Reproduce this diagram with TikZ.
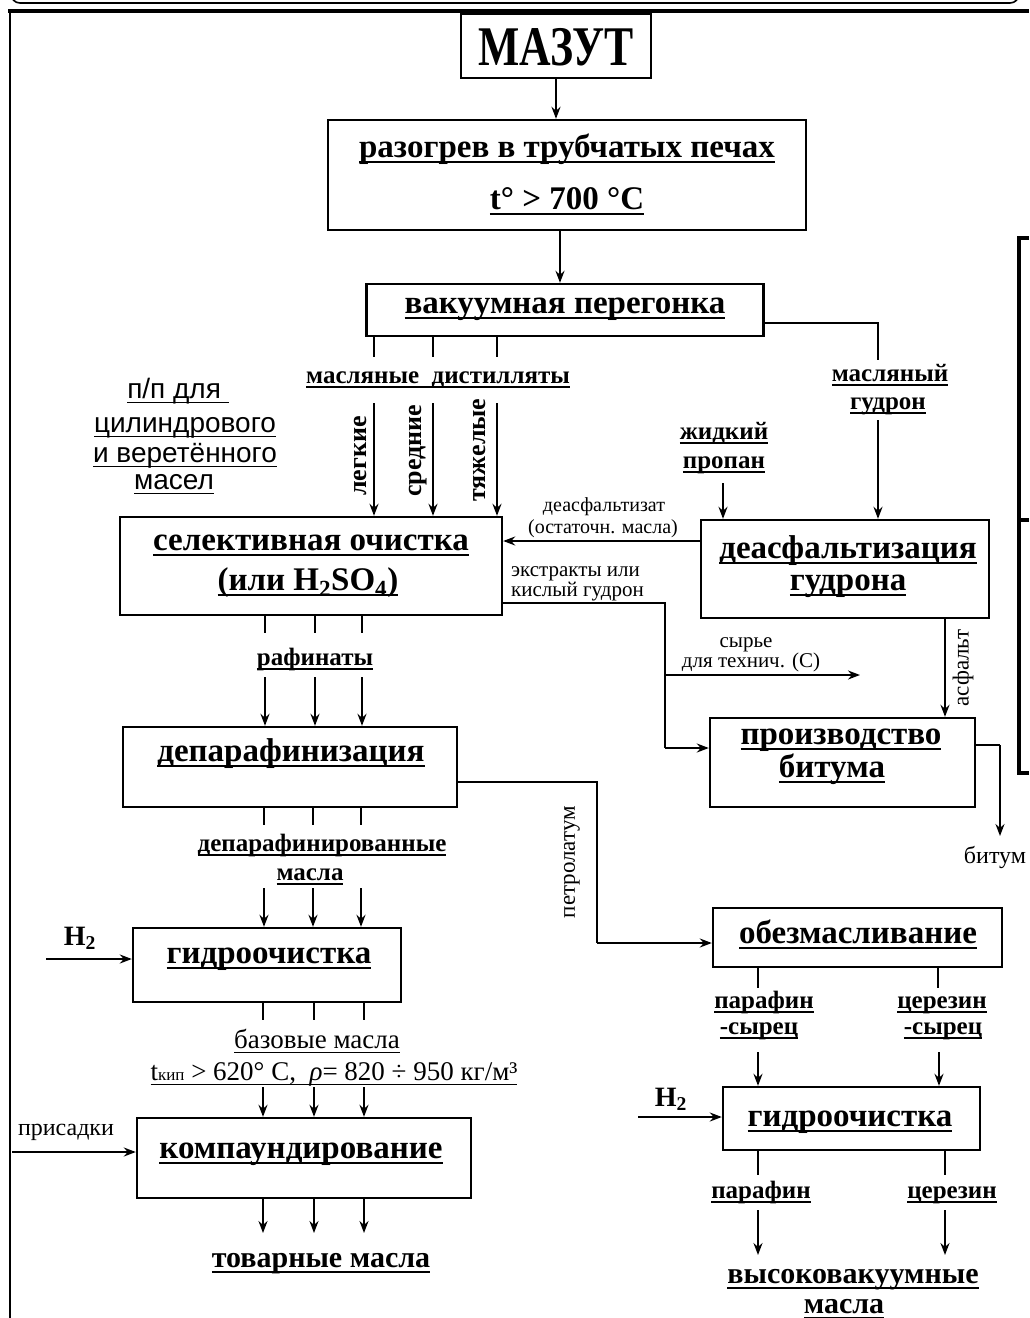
\documentclass[tikz,border=0pt]{standalone}
\usepackage{fontspec}
\setmainfont{Liberation Serif}
\newfontfamily\ppsans{Liberation Sans}
\usepackage{graphicx}
\usetikzlibrary{arrows.meta}
\newcommand\ulin[1]{\setbox0=\hbox{#1}\leavevmode\rlap{\vrule width\wd0 height -0.13em depth 0.19em}\box0}
\tikzset{
 box/.style={draw, line width=2.4pt, inner sep=0pt},
 bt/.style={font=\fontsize{33}{40}\selectfont\bfseries, inner sep=0pt, anchor=base},
 bm/.style={font=\fontsize{30}{36}\selectfont\bfseries, inner sep=0pt, anchor=base},
 bl/.style={font=\fontsize{25}{30}\selectfont\bfseries, inner sep=0pt, anchor=base},
 rl/.style={font=\fontsize{21}{24}\selectfont, inner sep=0pt, anchor=base},
 rlb/.style={font=\fontsize{27}{30}\selectfont, inner sep=0pt, anchor=base},
 ss/.style={font=\fontsize{28}{32}\selectfont\ppsans, inner sep=0pt, anchor=base},
 rot/.style={font=\fontsize{26}{30}\selectfont\bfseries, inner sep=0pt, rotate=90},
 rotr/.style={font=\fontsize{23}{26}\selectfont, inner sep=0pt, rotate=90},
 conn/.style={line width=2pt},
 arr/.style={line width=2pt, -{Stealth[length=12pt,width=9pt,inset=4pt]}},
}
\begin{document}
\begin{tikzpicture}[x=1pt,y=-1pt]
\useasboundingbox (0,0) rectangle (1029,1318);
% frame pieces
\draw[line width=1.6pt, rounded corners=9pt] (11,-15) -- (11,3) -- (1019,3) -- (1019,-15);
\draw[line width=4pt] (8,11) -- (1029,11);
\draw[line width=2.5pt] (10,11) -- (10,1318);
\draw[line width=4.5pt] (1029,238) -- (1019,238) -- (1019,773) -- (1029,773);
\draw[line width=4.5pt] (1019,520) -- (1029,520);

% boxes
\node[box, minimum width=190pt, minimum height=64pt] (mazut) at (556,46) {};
\node[box, minimum width=478pt, minimum height=110pt] (heat) at (567,175) {};
\node[box, minimum width=397pt, minimum height=52pt] (vac) at (565,310) {};
\node[box, minimum width=382pt, minimum height=98pt] (sel) at (311,566) {};
\node[box, minimum width=288pt, minimum height=98pt] (deas) at (845,569) {};
\node[box, minimum width=265pt, minimum height=89pt] (bit) at (842.5,762.5) {};
\node[box, minimum width=334pt, minimum height=80pt] (depar) at (290,767) {};
\node[box, minimum width=268pt, minimum height=74pt] (hyd1) at (267,965) {};
\node[box, minimum width=334pt, minimum height=80pt] (komp) at (304,1158) {};
\node[box, minimum width=289pt, minimum height=59pt] (obez) at (857.5,937.5) {};
\node[box, minimum width=257pt, minimum height=63pt] (hyd2) at (851.5,1118.5) {};

% box texts
\node[bt] (mazut-t) at (556,65) {\scalebox{0.78}[1]{\fontsize{56}{60}\selectfont МАЗУТ}};
\node[bt] (heat-t1) at (567,157) {\ulin{разогрев в трубчатых печах}};
\node[bt] (heat-t2) at (567,209) {\ulin{t° > 700 °C}};
\node[bt] (vac-t) at (565,313) {\ulin{вакуумная перегонка}};
\node[bt] (sel-t1) at (311,550) {\ulin{селективная очистка}};
\node[bt] (sel-t2) at (308,590) {\ulin{(или H\textsubscript{2}SO\textsubscript{4})}};
\node[bt] (deas-t1) at (848,558) {\ulin{деасфальтизация}};
\node[bt] (deas-t2) at (848,590) {\ulin{гудрона}};
\node[bt] (bit-t1) at (841,744) {\ulin{производство}};
\node[bt] (bit-t2) at (832,777) {\ulin{битума}};
\node[bt] (depar-t) at (291,761) {\ulin{депарафинизация}};
\node[bt] (hyd1-t) at (269,963) {\ulin{гидроочистка}};
\node[bt] (komp-t) at (301,1158) {\ulin{компаундирование}};
\node[bt] (obez-t) at (858,943) {\ulin{обезмасливание}};
\node[bt] (hyd2-t) at (850,1126) {\ulin{гидроочистка}};

% labels
\node[bl] (md) at (438,383) {\ulin{масляные\ \ дистилляты}};
\node[bl] (mg1) at (890,381) {\ulin{масляный}};
\node[bl] (mg2) at (888,409) {\ulin{гудрон}};
\node[bl] (lp1) at (724,439) {\ulin{жидкий}};
\node[bl] (lp2) at (724,468) {\ulin{пропан}};
\node[bl] (raf) at (315,665) {\ulin{рафинаты}};
\node[bl] (dm1) at (322,851) {\ulin{депарафинированные}};
\node[bl] (dm2) at (310,880) {\ulin{масла}};
\node[bm] (tov) at (321,1267) {\ulin{товарные масла}};
\node[bl] (ps1) at (764,1008) {\ulin{парафин}};
\node[bl] (ps2) at (759,1034) {\ulin{-сырец}};
\node[bl] (cs1) at (942,1008) {\ulin{церезин}};
\node[bl] (cs2) at (943,1034) {\ulin{-сырец}};
\node[bl] (par) at (761,1198) {\ulin{парафин}};
\node[bl] (cer) at (952,1198) {\ulin{церезин}};
\node[bm] (vv1) at (853,1283) {\ulin{высоковакуумные}};
\node[bm] (vv2) at (844,1313) {\ulin{масла}};

\node[rl, font=\fontsize{20}{22}\selectfont] (da1) at (604,511) {деасфальтизат};
\node[rl, font=\fontsize{20}{22}\selectfont] (da2) at (603,533) {(остаточн. масла)};
\node[rl, anchor=base west] (ex1) at (511,576) {экстракты или};
\node[rl, anchor=base west] (ex2) at (511,596) {кислый гудрон};
\node[rl] (sy1) at (746,647) {сырье};
\node[rl] (sy2) at (751,667) {для технич. (С)};
\node[rl, font=\fontsize{24}{26}\selectfont] (bitum) at (995,863) {битум};
\node[rl, font=\fontsize{24}{26}\selectfont] (pris) at (66,1135) {присадки};
\node[rlb] (baz) at (317,1048) {\ulin{базовые масла}};
\node[rlb] (tk) at (334,1080) {\ulin{t{\fontsize{17}{17}\selectfont кип} > 620° C,\ \ \textit{ρ}= 820 ÷ 950 кг/м³}};

\node[rot] (lg) at (361,456) {легкие};
\node[rot] (sr) at (418,451) {средние};
\node[rot] (tz) at (480,450) {тяжелые};
\node[rotr] (pet) at (572,862) {петролатум};
\node[rotr] (asf) at (963,668) {асфальт};

\node[bl, font=\fontsize{28}{30}\selectfont\bfseries] (h2a) at (80,945) {H\textsubscript{2}};
\node[bl, font=\fontsize{28}{30}\selectfont\bfseries] (h2b) at (671,1106) {H\textsubscript{2}};

\node[ss] (pp1) at (178,398) {\ulin{п/п для\ }};
\node[ss] (pp2) at (185,432) {\ulin{цилиндрового}};
\node[ss] (pp3) at (185,462) {\ulin{и веретённого}};
\node[ss] (pp4) at (174,489) {\ulin{масел}};

% free-end coordinates
\coordinate (vs1) at (374,357);
\coordinate (vs2) at (433,357);
\coordinate (vs3) at (497,357);
\coordinate (da) at (374,403);
\coordinate (db) at (433,403);
\coordinate (dc) at (497,403);
\coordinate (mgc) at (878,360);
\coordinate (mga) at (878,420);
\coordinate (lpa) at (723,483);
\coordinate (exc) at (665,603);
\coordinate (exd) at (665,748);
\coordinate (exb) at (665,675);
\coordinate (sye) at (860,675);
\coordinate (btc) at (1000,745);
\coordinate (bte) at (1000,836);
\coordinate (pc1) at (597,782);
\coordinate (pc2) at (597,943);
\coordinate (h2as) at (46,959);
\coordinate (prs) at (12,1152);
\coordinate (h2bs) at (638,1117);

% main chain
\draw[arr] (mazut.south) -- (mazut.south |- heat.north);
\draw[arr] (560,0 |- heat.south) -- (560,0 |- vac.north);
\draw[conn] (374,0 |- vac.south) -- (vs1);
\draw[conn] (433,0 |- vac.south) -- (vs2);
\draw[conn] (497,0 |- vac.south) -- (vs3);
\draw[arr] (da) -- (da |- sel.north);
\draw[arr] (db) -- (db |- sel.north);
\draw[arr] (dc) -- (dc |- sel.north);
\draw[conn] (vac.east |- 0,323) -- (878,323) -- (mgc);
\draw[arr] (mga) -- (mga |- deas.north);
\draw[arr] (lpa) -- (lpa |- deas.north);
\draw[arr] (deas.west |- 0,541) -- (sel.east |- 0,541);
\draw[conn] (sel.east |- exc) -- (exc) -- (exd);
\draw[arr] (exd) -- (bit.west |- exd);
\draw[arr] (exb) -- (sye);
\draw[arr] (945,0 |- deas.south) -- (945,0 |- bit.north);
\draw[conn] (bit.east |- btc) -- (btc);
\draw[arr] (btc) -- (bte);

% left column
\foreach \x in {265,315,362} {
  \draw[conn] (\x,0 |- sel.south) -- (\x,633);
  \draw[arr] (\x,677) -- (\x,0 |- depar.north);
}
\foreach \x in {264,313,361} {
  \draw[conn] (\x,0 |- depar.south) -- (\x,825);
  \draw[arr] (\x,888) -- (\x,0 |- hyd1.north);
}
\foreach \x in {263,314,364} {
  \draw[conn] (\x,0 |- hyd1.south) -- (\x,1020);
  \draw[arr] (\x,1087) -- (\x,0 |- komp.north);
  \draw[arr] (\x,0 |- komp.south) -- (\x,1233);
}
\draw[arr] (h2as) -- (hyd1.west |- h2as);
\draw[arr] (prs) -- (komp.west |- prs);
\draw[conn] (depar.east |- pc1) -- (pc1) -- (pc2);
\draw[arr] (pc2) -- (obez.west |- pc2);

% right column
\draw[conn] (758,0 |- obez.south) -- (758,988);
\draw[conn] (938,0 |- obez.south) -- (938,988);
\draw[arr] (758,1052) -- (758,0 |- hyd2.north);
\draw[arr] (939,1052) -- (939,0 |- hyd2.north);
\draw[arr] (h2bs) -- (hyd2.west |- h2bs);
\draw[conn] (758,0 |- hyd2.south) -- (758,1175);
\draw[conn] (945,0 |- hyd2.south) -- (945,1175);
\draw[arr] (758,1210) -- (758,1255);
\draw[arr] (945,1210) -- (945,1255);
\end{tikzpicture}
\end{document}
